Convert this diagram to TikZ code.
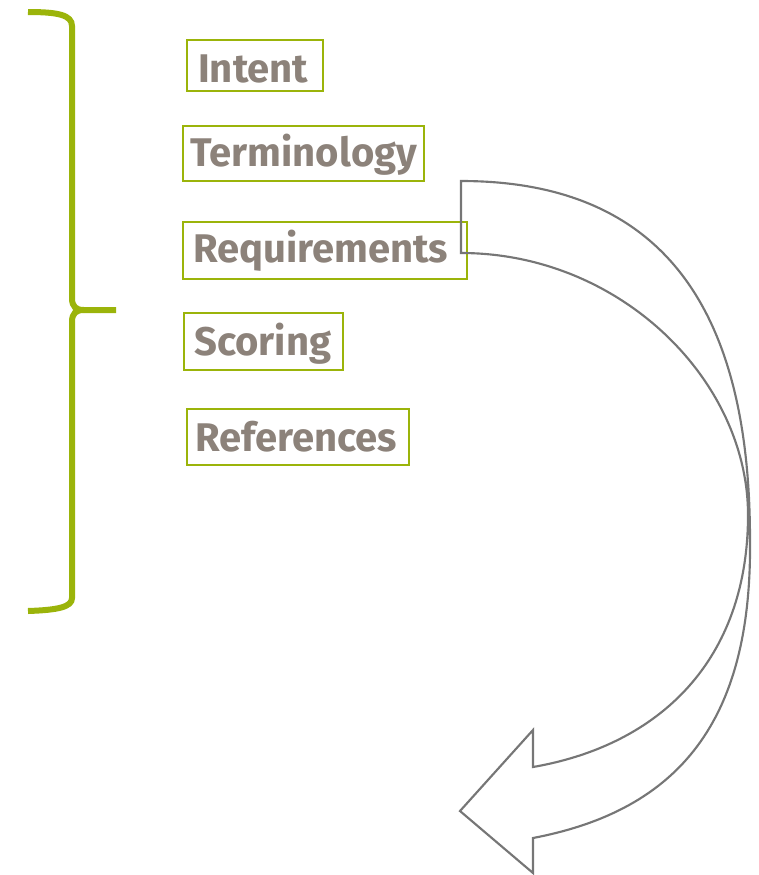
\documentclass[tikz,border=0pt]{standalone}
\usepackage{fontspec}
\setmainfont{Fira Sans}
\usetikzlibrary{fit}
\definecolor{brgreen}{RGB}{155,180,10}
\definecolor{txtgray}{RGB}{140,130,122}
\definecolor{arrgray}{RGB}{118,118,118}
\begin{document}
\begin{tikzpicture}[x=0.75pt,y=-0.75pt,
  bx/.style={draw=brgreen, line width=1.4pt, inner sep=0pt, fill=white},
  lbl/.style={anchor=base west, inner sep=0pt, text=txtgray, font=\bfseries\fontsize{30}{33}\selectfont},
  brace/.style={draw=brgreen, line width=4.5pt, line cap=butt},
  bigarrow/.style={draw=arrgray, line width=1.6pt, line join=miter}]
\useasboundingbox (0,0) rectangle (758,875);
% brace
\draw[brace] (28,12) .. controls (58,12) and (72,15) .. (72,26) -- (72,298)
  .. controls (72,307) and (76,310) .. (84,310) -- (116,310);
\draw[brace] (84,310) .. controls (76,310) and (72,313) .. (72,322) -- (72,598)
  .. controls (72,607) and (58,610) .. (28,611);
% boxes
\node[bx, fit={(187,40) (323,91)}] (bintent) {};
\node[bx, fit={(183,126) (424,181)}] (bterm) {};
\node[bx, fit={(183,222) (467,279)}] (breq) {};
\node[bx, fit={(184,313) (343,370)}] (bscore) {};
\node[bx, fit={(187,409) (409,465)}] (bref) {};
% labels
\node[lbl] (tintent) at (198,82) {Intent};
\node[lbl] (tterm) at (190,166) {Terminology};
\node[lbl] (treq) at (193,262) {Requirements};
\node[lbl] (tscore) at (194,355) {Scoring};
\node[lbl] (tref) at (195,451) {References};
% curved arrow
\coordinate (a1) at (461,181);
\coordinate (a2) at (750,540);
\coordinate (a3) at (533,838);
\coordinate (a4) at (533,873);
\coordinate (tip) at (460,811);
\coordinate (a5) at (533,730);
\coordinate (a6) at (533,767);
\coordinate (a7) at (748,515);
\coordinate (a8) at (461,253);
\draw[bigarrow] (a1) .. controls (675,181) and (750,325) .. (a2)
  .. controls (752,720) and (680,810) .. (a3) -- (a4) -- (tip) -- (a5) -- (a6)
  .. controls (660,745) and (748,660) .. (a7)
  .. controls (748,380) and (620,253) .. (a8) -- cycle;
\end{tikzpicture}
\end{document}
